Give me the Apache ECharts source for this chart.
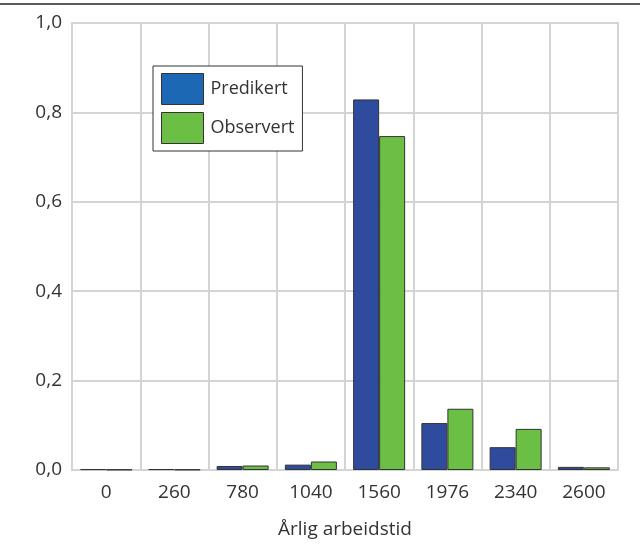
<!DOCTYPE html>
<html><head><meta charset="utf-8">
<script src="https://cdn.jsdelivr.net/npm/echarts@6/dist/echarts.min.js"></script>
<style>html,body{margin:0;padding:0;background:#fff}#c{width:640px;height:549px}</style>
</head><body><div id="c"></div>
<script>
const categories = ['0','260','780','1040','1560','1976','2340','2600'];
const predikert = [0.002, 0.002, 0.009, 0.012, 0.829, 0.105, 0.051, 0.007];
const observert = [0.001, 0.001, 0.010, 0.019, 0.747, 0.137, 0.092, 0.006];
const seriesNames = ['Predikert', 'Observert'];
const axisTitle = 'Årlig arbeidstid';

const FONT = '"Open Sans", "Noto Sans", sans-serif';
const chart = echarts.init(document.getElementById('c'));
chart.setOption({
  animation: false,
  grid: { left: 72, right: 22, top: 23, bottom: 79, show: true, borderColor: '#d4d4d4', borderWidth: 2,
          outerBoundsMode: 'none', containLabel: false },
  graphic: [{ type: 'line', shape: { x1: 0, y1: 4, x2: 640, y2: 4 }, style: { stroke: '#222', lineWidth: 1.5 } }],
  legend: {
    orient: 'vertical', left: 153, top: 66,
    icon: 'rect',
    itemWidth: 42, itemHeight: 31, itemGap: 7, padding: [7, 8, 7, 8],
    borderColor: '#333', borderWidth: 1, backgroundColor: '#fff',
    textStyle: { fontFamily: FONT, fontSize: 18, color: '#333', padding: [0, 0, 0, 2] },
    data: [
      { name: seriesNames[0], itemStyle: { color: '#1c68b4', borderColor: '#333', borderWidth: 1 } },
      { name: seriesNames[1], itemStyle: { color: '#6bbf45', borderColor: '#333', borderWidth: 1 } }
    ]
  },
  xAxis: {
    type: 'category', data: categories,
    name: axisTitle, nameLocation: 'middle', nameGap: 50,
    nameTextStyle: { fontFamily: FONT, fontSize: 19, color: '#333' },
    axisLine: { show: true, lineStyle: { color: '#d4d4d4', width: 2 } },
    axisTick: { show: false },
    axisLabel: { fontFamily: FONT, fontSize: 19, color: '#333', margin: 13 },
    splitLine: { show: true, lineStyle: { color: '#d4d4d4', width: 2 } }
  },
  yAxis: {
    type: 'value', min: 0, max: 1, interval: 0.2,
    axisLine: { show: false }, axisTick: { show: false },
    axisLabel: { fontFamily: FONT, fontSize: 19, color: '#333', margin: 10,
      formatter: v => v.toFixed(1).replace('.', ',') },
    splitLine: { show: true, lineStyle: { color: '#d4d4d4', width: 2 } }
  },
  series: [
    { name: seriesNames[0], type: 'bar', data: predikert, barWidth: 26, barGap: '0%',
      itemStyle: { color: '#2e4b9e', borderColor: '#333', borderWidth: 1 } },
    { name: seriesNames[1], type: 'bar', data: observert, barWidth: 26, barGap: '0%',
      itemStyle: { color: '#6bbf45', borderColor: '#333', borderWidth: 1 } }
  ]
});
</script></body></html>
